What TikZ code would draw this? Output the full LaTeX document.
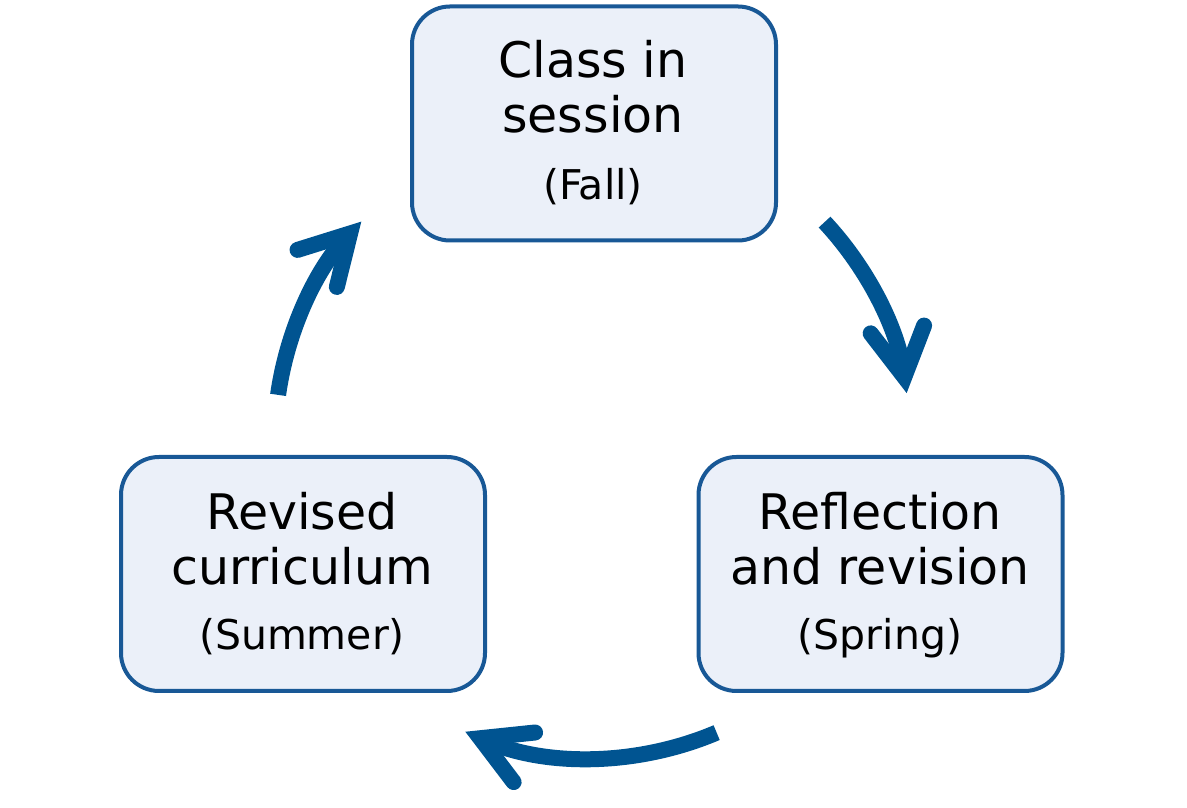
\documentclass[tikz,border=0pt]{standalone}
\usepackage{fontspec}
\setmainfont{DejaVu Sans}
\usetikzlibrary{arrows.meta,calc}
\definecolor{arrowblue}{RGB}{0,84,145}
\definecolor{boxborder}{RGB}{24,88,150}
\definecolor{boxfill}{RGB}{235,240,249}
\tikzset{
  phasebox/.style={draw=boxborder, line width=4pt, fill=boxfill, rounded corners=38pt,
    minimum width=364pt, minimum height=234pt, inner sep=0pt},
  maintext/.style={anchor=base, inner sep=0pt, font=\fontsize{49}{56}\selectfont},
  seasontext/.style={anchor=base, inner sep=0pt, font=\fontsize{41}{48}\selectfont},
  cyclearrow/.style={draw=arrowblue, line width=16pt,
    -{Straight Barb[length=48pt, width=54pt, line cap=round, line join=miter]}}
}
\begin{document}
\begin{tikzpicture}[x=1pt,y=1pt]
\useasboundingbox (0,0) rectangle (1187,808);
% boxes
\node[phasebox] (fall) at (594,684.5) {};
\node[phasebox] (summer) at (303,234) {};
\node[phasebox] (spring) at (880.5,234) {};
% texts
\node[maintext] (fall1) at (593,730) {Class in};
\node[maintext] (fall2) at (593,675) {session};
\node[seasontext] (fall3) at (593,608) {(Fall)};
\node[maintext] (sum1) at (302,278) {Revised};
\node[maintext] (sum2) at (302,223) {curriculum};
\node[seasontext] (sum3) at (302,158) {(Summer)};
\node[maintext] (spr1) at (880,278) {Reflection};
\node[maintext] (spr2) at (880,223) {and revision};
\node[seasontext] (spr3) at (880,158) {(Spring)};
% cycle arrows
\coordinate (c) at (592,369);
\coordinate (a1) at ($(c)+(43:318)$);
\coordinate (a2) at ($(c)+(-67:319)$);
\coordinate (a3) at ($(c)+(172:317)$);
\draw[cyclearrow] (a1) arc[start angle=43, end angle=8.3, radius=318];
\draw[cyclearrow] (a2) arc[start angle=-67, end angle=-113.4, radius=319];
\draw[cyclearrow] (a3) arc[start angle=172, end angle=136.7, radius=317];
\end{tikzpicture}
\end{document}
